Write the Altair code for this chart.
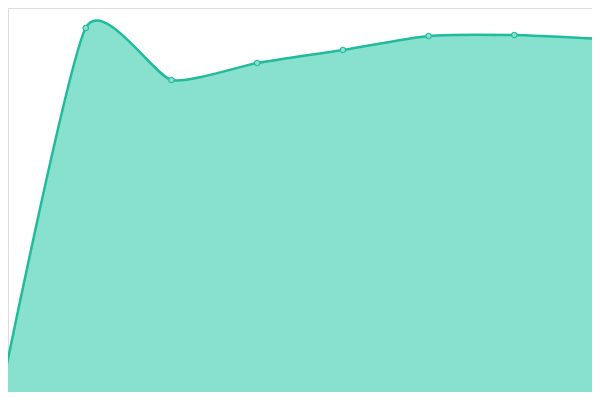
import altair as alt
import pandas as pd

xs = [0, 1, 2, 3, 4, 5, 6, 7]
vals = [2, 372, 320, 337, 350, 364, 365, 361]

df = pd.DataFrame({"x": xs, "v": vals})

step = 600 / 7
xsc = alt.Scale(domain=[8 / step, 592 / step], nice=False, zero=False)
ysc = alt.Scale(domain=[8, 392], nice=False, zero=False)

base = alt.Chart(df).encode(
    x=alt.X("x:Q", scale=xsc, axis=None),
    y=alt.Y("v:Q", scale=ysc, axis=None),
)

area = base.mark_area(
    interpolate="cardinal", tension=0.4, color="#88e0cf", opacity=1, clip=True,
    line={"color": "#1fbb9b", "strokeWidth": 2.5},
)
pts = base.mark_point(
    filled=True, size=30, fill="#88e0cf", stroke="#1fbb9b", strokeWidth=1.2, opacity=1, clip=True
)

chart = (area + pts).properties(
    width=584, height=384, padding=0
).configure_view(strokeWidth=0, stroke="transparent").configure(background="white")

chart.save("out.html", embed_options={"renderer": "svg", "actions": False})
